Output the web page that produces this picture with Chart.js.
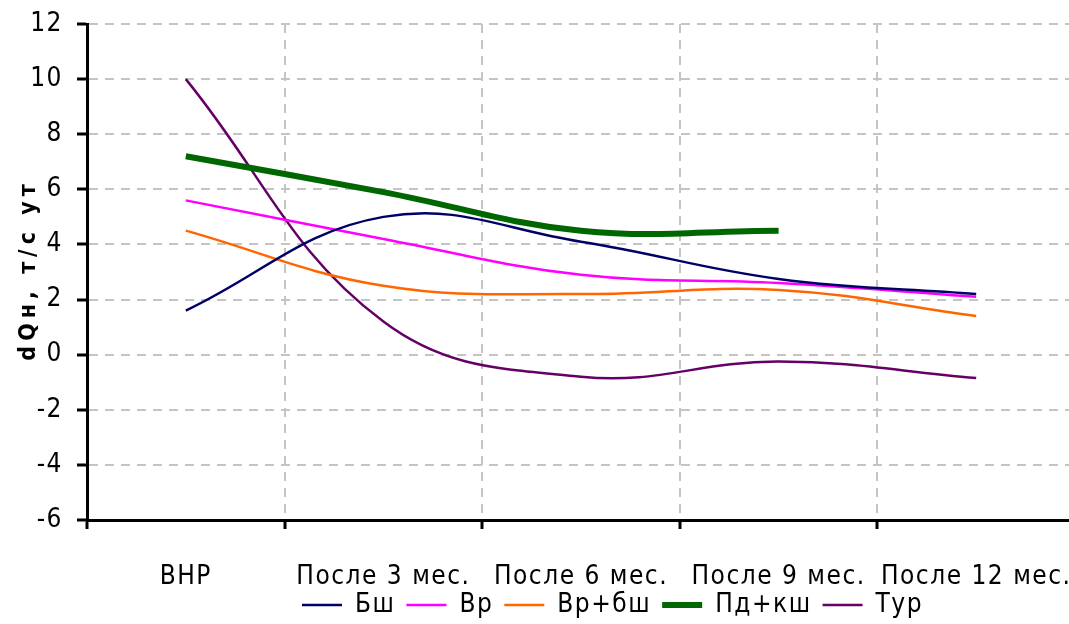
<!DOCTYPE html>
<html lang="ru">
<head>
<meta charset="UTF-8">
<title>dQн, т/с ут</title>
<script src="https://cdn.jsdelivr.net/npm/chart.js@4"></script>
<style>
  html, body { margin: 0; padding: 0; background: #fff; overflow: hidden; }
  .wrap { position: relative; width: 1080px; height: 624px; }
</style>
</head>
<body>
<div class="wrap"><canvas id="chart"></canvas></div>
<script>
// categories and series
const labels = ['ВНР', 'После 3 мес.', 'После 6 мес.', 'После 9 мес.', 'После 12 мес.'];
const bsh   = [1.6, 5.0, 4.1, 2.75, 2.2];
const vr    = [5.6, 4.2, 2.9, 2.6, 2.1];
const vrBsh = [4.5, 2.5, 2.2, 2.35, 1.4];
const pdKsh = [7.2, 5.9, 4.5, 4.5, null];
const tur   = [10, 1.2, -0.8, -0.25, -0.85];

const yMin = -6, yMax = 12, yStep = 2;
const yTitle = 'dQн, т/с ут';

// the original lettering is tall and narrow
const FONT = '"DejaVu Sans Condensed", "Liberation Sans", sans-serif';

// small letter spacing for all chart text
const spacing = {
  id: 'spacing',
  beforeLayout(chart) { chart.ctx.letterSpacing = '1.5px'; },
  beforeDraw(chart) { chart.ctx.letterSpacing = '1.5px'; }
};

// legend: short box so the x labels keep their room, then put it where the original has it
const legendPos = {
  id: 'legendPos',
  beforeLayout(chart) {
    const lg = chart.legend;
    if (lg && !lg._short) {
      const fit = lg.fit;
      lg.fit = function () { fit.call(this); this.height = 33; };
      lg._short = true;
    }
  },
  afterLayout(chart) {
    const lg = chart.legend;
    lg.top = 581;
    lg.bottom = 624;
    lg.left += 75;
    lg.right += 75;
  }
};

// rotated axis title with wider spacing
const yTitlePlugin = {
  id: 'yTitle',
  afterDraw(chart) {
    const ctx = chart.ctx;
    ctx.save();
    ctx.translate(29, 270);
    ctx.rotate(-Math.PI / 2);
    ctx.font = 'bold 23px ' + FONT;
    ctx.letterSpacing = '5px';
    ctx.fillStyle = '#000';
    ctx.textAlign = 'center';
    ctx.textBaseline = 'middle';
    ctx.fillText(yTitle, 0, 0);
    ctx.restore();
  }
};

function line(label, data, color, width) {
  return {
    label: label,
    data: data,
    borderColor: color,
    backgroundColor: color,
    borderWidth: width,
    pointRadius: 0,
    tension: 0.4,
    spanGaps: false
  };
}

const gridColor = '#c4c4c4';

new Chart(document.getElementById('chart'), {
  type: 'line',
  data: {
    labels: labels,
    datasets: [
      line('Бш', bsh, '#000066', 2.5),
      line('Вр', vr, '#ff00ff', 2.5),
      line('Вр+бш', vrBsh, '#ff6600', 2.5),
      line('Пд+кш', pdKsh, '#006600', 6),
      line('Тур', tur, '#660066', 2.5)
    ]
  },
  options: {
    responsive: true,
    maintainAspectRatio: false,
    animation: false,
    layout: { padding: { top: 24, right: 5, bottom: 0, left: 0 } },
    plugins: {
      tooltip: { enabled: false },
      legend: {
        position: 'bottom',
        labels: {
          boxWidth: 40,
          boxHeight: 0,
          padding: 11,
          color: '#000',
          font: { family: FONT, size: 26 }
        }
      }
    },
    scales: {
      x: {
        offset: true,
        grid: {
          offset: true,
          color: gridColor,
          lineWidth: 2,
          tickLength: 9,
          tickColor: '#000',
          tickWidth: 3,
          tickBorderDash: []
        },
        border: { color: '#000', width: 3, dash: [9, 7] },
        ticks: {
          color: '#000',
          padding: 5,
          maxRotation: 0,
          autoSkip: false,
          font: { family: FONT, size: 26, lineHeight: 3.3 }
        },
        afterFit(scale) {
          scale.height = 71;
          scale.paddingLeft = 0;
          scale.paddingRight = 0;
        }
      },
      y: {
        min: yMin,
        max: yMax,
        grid: {
          color: gridColor,
          lineWidth: 2,
          tickLength: 10,
          tickColor: '#000',
          tickWidth: 3,
          tickBorderDash: []
        },
        border: { color: '#000', width: 3, dash: [9, 7] },
        ticks: {
          stepSize: yStep,
          color: '#000',
          padding: 14,
          font: { family: FONT, size: 26 }
        },
        afterFit(scale) {
          scale.width = 87;
          scale.paddingTop = 0;
          scale.paddingBottom = 0;
        }
      }
    }
  },
  plugins: [spacing, legendPos, yTitlePlugin]
});
</script>
</body>
</html>
